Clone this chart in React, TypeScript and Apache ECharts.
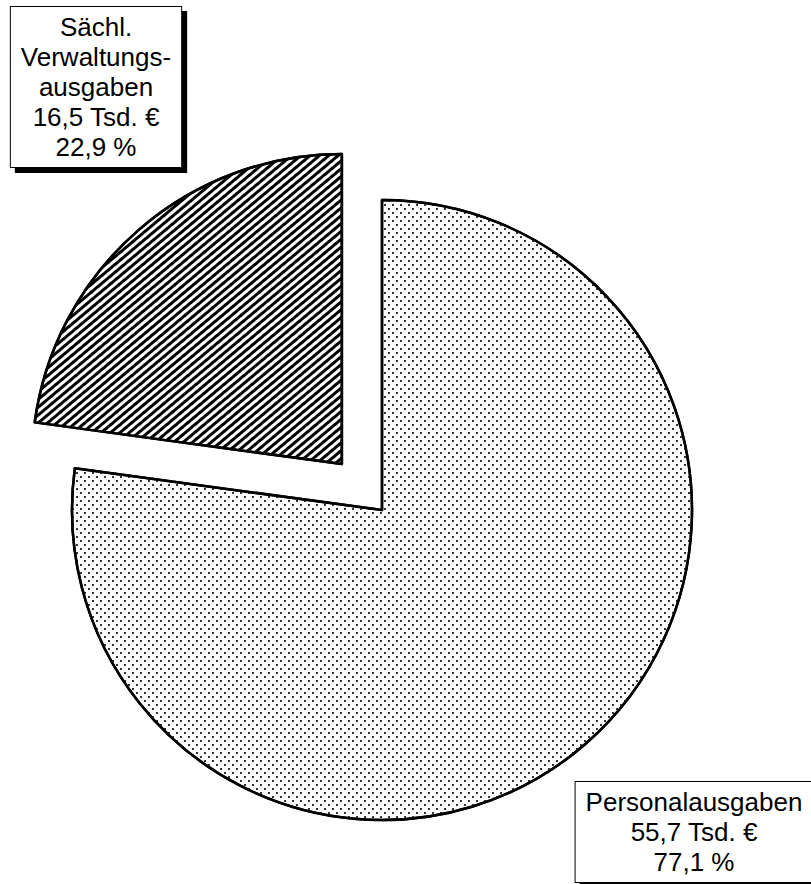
import React, { useEffect, useRef } from "react";
import * as echarts from "echarts";

const categories = ["Personalausgaben", "Sächl.\nVerwaltungs-\nausgaben"];
const values = [55.7, 16.5];
const percentLabels = ["77,1 %", "22,9 %"];
const unit = "Tsd. €";

export default function App() {
  const ref = useRef<HTMLDivElement>(null);
  useEffect(() => {
    if (!ref.current) return;
    const chart = echarts.init(ref.current, undefined, { renderer: "svg" });
    const dotDecal = {
      symbol: "rect",
      symbolSize: 1,
      color: "#333",
      dashArrayX: [
        [2, 6],
        [0, 4, 2, 2],
      ],
      dashArrayY: [2, 2],
      rotation: 0,
    };
    const hatchDecal = {
      symbol: "rect",
      symbolSize: 1,
      color: "#000",
      dashArrayX: [1, 0],
      dashArrayY: [2.5, 2.5],
      rotation: -Math.PI / 4.5,
    };
    const labelPositions = [
      { x: 694, y: 832 },
      { x: 96, y: 87 },
    ];
    const fmt = (v: number) => v.toFixed(1).replace(".", ",");
    chart.setOption({
      animation: false,
      aria: { enabled: true, decal: { show: true } },
      backgroundColor: "#fff",
      graphic: categories.map((name, i) => ({
        type: "text",
        x: labelPositions[i].x,
        y: labelPositions[i].y,
        z: 100,
        style: {
          text: `${name}\n${fmt(values[i])} ${unit}\n${percentLabels[i]}`,
          fontFamily: "Liberation Sans, Arial, sans-serif",
          fontSize: 26,
          lineHeight: 30,
          fill: "#000",
          align: "center",
          verticalAlign: "middle",
          backgroundColor: "#fff",
          borderColor: "#000",
          borderWidth: 1,
          padding: [5, 10],
          shadowColor: "#000",
          shadowOffsetX: 5,
          shadowOffsetY: 5,
          shadowBlur: 0,
        },
      })),
      series: [
        {
          type: "pie",
          center: [382, 510],
          radius: 310,
          startAngle: 90,
          clockwise: true,
          selectedMode: true,
          selectedOffset: 61,
          avoidLabelOverlap: false,
          emphasis: { disabled: true },
          itemStyle: { color: "#fff", borderColor: "#000", borderWidth: 2.5 },
          label: { show: false },
          labelLine: { show: false },
          data: categories.map((name, i) => ({
            name,
            value: values[i],
            selected: i === 1,
            itemStyle: { decal: i === 0 ? dotDecal : hatchDecal },
          })),
        },
      ],
    });
    return () => chart.dispose();
  }, []);
  return (
    <div
      ref={ref}
      style={{ position: "absolute", left: 0, top: 0, width: 811, height: 884 }}
    />
  );
}
